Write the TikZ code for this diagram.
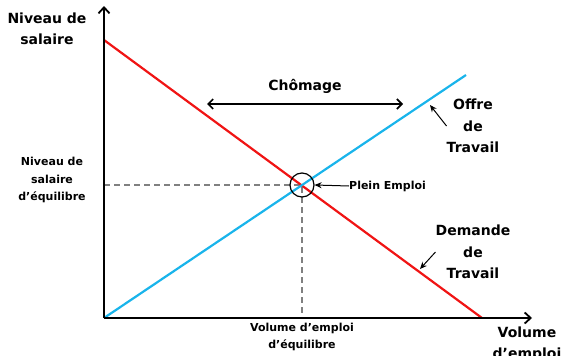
\documentclass[tikz,border=0pt]{standalone}
\usepackage{fontspec}
\setmainfont{DejaVu Sans}
\usetikzlibrary{arrows.meta}
\definecolor{offre}{RGB}{25,180,235}
\definecolor{demande}{RGB}{240,20,20}
\begin{document}
\begin{tikzpicture}[x=1pt,y=-1pt]
        \tikzstyle{every node} = [align=center, inner sep=0pt]
        \tikzstyle{big} = [font=\bfseries\fontsize{14}{21.5}\selectfont]
        \tikzstyle{small} = [font=\bfseries\fontsize{11}{17.5}\selectfont]
        \tikzstyle{pointer} = [-{Stealth[length=7pt,width=6pt]}, line width=1pt]
        \useasboundingbox (0,0) rectangle (563,356);
        % axes and curves
        \coordinate (o) at (104,318);
        \coordinate (ytop) at (104,6);
        \coordinate (xend) at (532,318);
        \coordinate (d1) at (104,40);
        \coordinate (d2) at (482,318);
        \coordinate (s2) at (466,75);
        \coordinate (eq) at (302,185);
        \coordinate (eqy) at (104,185);
        \coordinate (eqx) at (302,318);
        \draw[gray, line width=1.3pt, dash pattern=on 6pt off 4pt] (eqy) -- (eq) -- (eqx);
        \draw[demande, line width=2.2pt] (d1) -- (d2);
        \draw[offre, line width=2.2pt] (o) -- (s2);
        \draw[line width=1.8pt, -{Straight Barb[length=6pt,width=11pt,line width=1.8pt]}] (o) -- (ytop);
        \draw[line width=1.8pt, -{Straight Barb[length=6pt,width=11pt,line width=1.8pt]}] (o) -- (xend);
        \node[draw, circle, line width=1.2pt, minimum size=24pt] (pe) at (eq) {};
        % labels
        \node[big] (ylab) at (47,29) {Niveau de\\salaire};
        \node[big] (xlab) at (527,344) {Volume\\d’emploi};
        \node[small] (wlab) at (52,180) {Niveau de\\salaire\\d’équilibre};
        \node[small] (vlab) at (302,337) {Volume d’emploi\\d’équilibre};
        \node[small, anchor=west] (plein) at (349,186) {Plein Emploi};
        \node[big] (chom) at (305,86) {Chômage};
        \node[big] (offre) at (473,126) {Offre\\de\\Travail};
        \node[big] (dem) at (473,252) {Demande\\de\\Travail};
        \coordinate (cl) at (207,104);
        \coordinate (cr) at (403,104);
        \coordinate (ot) at (430,105);
        \coordinate (dt) at (420,269);
        \draw[line width=1.6pt, {Straight Barb[length=5pt,width=10pt]}-{Straight Barb[length=5pt,width=10pt]}] (cl) -- (cr);
        \foreach \from/\to in {plein.west/pe.east, offre.west/ot, dem.west/dt}
            \draw[pointer] (\from) -- (\to);
\end{tikzpicture}
\end{document}
